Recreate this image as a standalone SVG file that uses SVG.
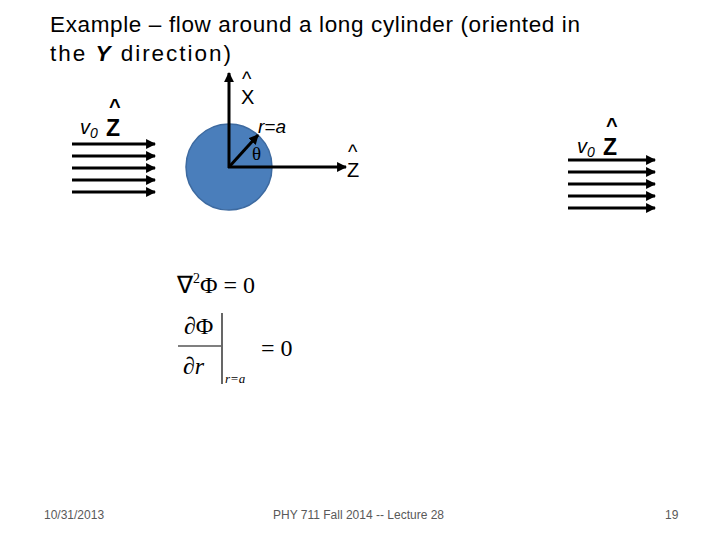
<svg xmlns="http://www.w3.org/2000/svg" width="720" height="540" viewBox="0 0 720 540">
<style>
.t{font-family:"Liberation Sans",Arial,sans-serif;fill:#000}
.m{font-family:"Liberation Serif","Times New Roman",serif;fill:#000}
.a{stroke:#000;stroke-width:3;fill:none;marker-end:url(#ah)}
.f{font-family:"Liberation Sans",Arial,sans-serif;font-size:12px;fill:#595959}
</style>
<defs><marker id="ah" viewBox="0 0 10 10" refX="9" refY="5" markerWidth="3.3" markerHeight="3.3" orient="auto"><path d="M0,0L10,5L0,10z" fill="#000"/></marker></defs>
<rect width="720" height="540" fill="#fff"/>
<text class="t" x="50" y="32" font-size="22.5" textLength="530" lengthAdjust="spacing">Example – flow around a long cylinder (oriented in</text>
<text class="t" x="50" y="61" font-size="22.5" textLength="181" lengthAdjust="spacing">the  <tspan font-style="italic" font-weight="bold">Y</tspan>   direction)</text>
<g id="cylinder"><circle cx="229" cy="167" r="43" fill="#4a7ebb" stroke="#3d6aa0" stroke-width="1.5"/></g>
<g id="connectors">
<path class="a" d="M72 144H155"/><path class="a" d="M72 156H155"/><path class="a" d="M72 168H155"/><path class="a" d="M72 180H155"/><path class="a" d="M72 192H155"/>
<path class="a" d="M568 160H655"/><path class="a" d="M568 172H655"/><path class="a" d="M568 184H655"/><path class="a" d="M568 196H655"/><path class="a" d="M568 208H655"/>
<path class="a" d="M229 168V73"/>
<path class="a" d="M228 167H346"/>
<path class="a" d="M229 167L258 135"/>
</g>
<g id="labels">
<text class="t" x="80" y="134" font-size="20" font-style="italic">v<tspan font-size="14" dy="4">0</tspan></text>
<text class="t" x="106" y="136" font-size="23" font-weight="bold">Z</text><text class="t" x="109" y="113" font-size="20" font-weight="bold">^</text>
<text class="t" x="241" y="104" font-size="20">X</text><text class="t" x="242" y="86" font-size="20">^</text>
<text class="t" x="258" y="133" font-size="19" font-style="italic">r=a</text>
<text class="m" x="252" y="160" font-size="19">θ</text>
<text class="t" x="347" y="177" font-size="20">Z</text><text class="t" x="348" y="159" font-size="20">^</text>
<text class="t" x="577" y="153" font-size="20" font-style="italic">v<tspan font-size="14" dy="4">0</tspan></text>
<text class="t" x="603" y="155" font-size="23" font-weight="bold">Z</text><text class="t" x="606" y="132" font-size="20" font-weight="bold">^</text>
</g>
<g id="equations">
<text class="m" x="177" y="293" font-size="24">∇<tspan font-size="14" dy="-10">2</tspan><tspan dy="10">Φ = 0</tspan></text>
<text class="m" x="184" y="334" font-size="24" font-style="italic">∂<tspan font-style="normal">Φ</tspan></text>
<line x1="178" y1="346" x2="221" y2="346" stroke="#000" stroke-width="1.2"/>
<text class="m" x="183" y="374" font-size="24" font-style="italic">∂r</text>
<line x1="222" y1="313" x2="222" y2="384" stroke="#000" stroke-width="1.2"/>
<text class="m" x="225" y="383" font-size="13" font-style="italic">r=a</text>
<text class="m" x="261" y="356" font-size="24">= 0</text>
</g>
<text class="f" x="44" y="519">10/31/2013</text>
<text class="f" x="273" y="519">PHY 711  Fall 2014 -- Lecture 28</text>
<text class="f" x="665" y="519">19</text>
</svg>
